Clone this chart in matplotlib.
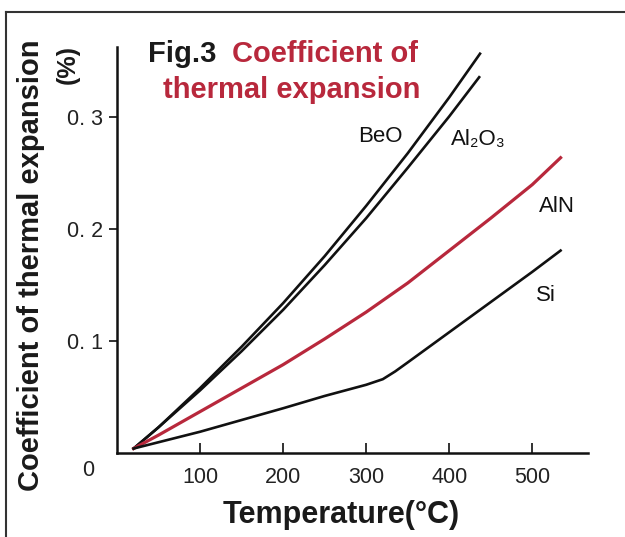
import matplotlib
matplotlib.use("Agg")
import matplotlib.pyplot as plt

# ---- data ----
temp_beo = [20, 50, 100, 150, 200, 250, 300, 350, 400, 437]
val_beo = [0.004, 0.023, 0.058, 0.095, 0.134, 0.176, 0.221, 0.268, 0.318, 0.357]

temp_al2o3 = [20, 50, 100, 150, 200, 250, 300, 350, 400, 436]
val_al2o3 = [0.004, 0.023, 0.056, 0.091, 0.128, 0.168, 0.210, 0.255, 0.301, 0.336]

temp_aln = [20, 50, 100, 150, 200, 250, 300, 350, 400, 450, 500, 534]
val_aln = [0.004, 0.016, 0.037, 0.058, 0.079, 0.102, 0.126, 0.152, 0.181, 0.210, 0.240, 0.264]

temp_si = [20, 100, 200, 250, 300, 320, 335, 350, 400, 450, 500, 534]
val_si = [0.004, 0.019, 0.040, 0.051, 0.061, 0.066, 0.073, 0.081, 0.108, 0.135, 0.162, 0.181]

x_ticks = [100, 200, 300, 400, 500]
x_ticklabels = ["100", "200", "300", "400", "500"]
y_ticks = [0.1, 0.2, 0.3]
y_ticklabels = ["0. 1", "0. 2", "0. 3"]

RED = "#b8283c"
W, H = 625, 537
FONT = ["Liberation Sans", "DejaVu Sans"]
plt.rcParams["font.family"] = FONT

fig = plt.figure(figsize=(W / 100, H / 100), dpi=100)
ax = fig.add_axes([117 / W, 1 - 453 / H, (588 - 117) / W, (453 - 47) / H])

ax.plot(temp_beo, val_beo, color="#111111", lw=1.9, solid_joinstyle="round")
ax.plot(temp_al2o3, val_al2o3, color="#111111", lw=1.9, solid_joinstyle="round")
ax.plot(temp_aln, val_aln, color=RED, lw=2.3, solid_joinstyle="round")
ax.plot(temp_si, val_si, color="#111111", lw=1.9, solid_joinstyle="round")

ax.set_xlim(0, 567)
ax.set_ylim(0, 0.363)
for s in ["top", "right"]:
    ax.spines[s].set_visible(False)
for s in ["left", "bottom"]:
    ax.spines[s].set_linewidth(1.8)
    ax.spines[s].set_color("#111111")

ax.set_xticks(x_ticks)
ax.set_xticklabels(x_ticklabels)
ax.set_yticks(y_ticks)
ax.set_yticklabels(y_ticklabels)
ax.tick_params(axis="x", direction="in", length=7, width=1.3, pad=10,
               labelsize=15.5, colors="#222222")
ax.tick_params(axis="y", direction="out", length=6, width=1.3, pad=4,
               labelsize=15.5, colors="#222222")

# origin label
fig.text(88 / W, 1 - 470 / H, "0", fontsize=15.5, color="#222222",
         ha="center", va="center")

# curve labels
ax.text(317, 0.283, "BeO", fontsize=16, ha="center", va="center", color="#111111")
ax.text(435, 0.280, "Al₂O₃", fontsize=16, ha="center", va="center", color="#111111")
ax.text(530, 0.220, "AlN", fontsize=16, ha="center", va="center", color="#111111")
ax.text(516, 0.141, "Si", fontsize=16, ha="center", va="center", color="#111111")

# title
fig.text(148 / W, 1 - 62 / H, "Fig.3", fontsize=21, fontweight="bold",
         color="#1a1a1a", ha="left", va="baseline")
fig.text(232 / W, 1 - 62 / H, "Coefficient of", fontsize=21, fontweight="bold",
         color=RED, ha="left", va="baseline")
fig.text(163 / W, 1 - 98 / H, "thermal expansion", fontsize=21, fontweight="bold",
         color=RED, ha="left", va="baseline")

# axis labels
fig.text(31 / W, 1 - 265 / H, "Coefficient of thermal expansion", fontsize=21,
         fontweight="bold", rotation=90, ha="center", va="center", color="#1a1a1a")
fig.text(68 / W, 1 - 64 / H, "(%)", fontsize=18, fontweight="bold",
         rotation=90, ha="center", va="center", color="#1a1a1a")
fig.text(341 / W, 1 - 515 / H, "Temperature(°C)", fontsize=22,
         fontweight="bold", ha="center", va="center", color="#1a1a1a")

# scanned frame lines (left and top)
fig.add_artist(plt.Line2D([6 / W, 6 / W], [0, 1 - 12 / H], transform=fig.transFigure,
                          color="#333333", lw=1.5))
fig.add_artist(plt.Line2D([6 / W, 1], [1 - 12 / H, 1 - 12 / H], transform=fig.transFigure,
                          color="#333333", lw=1.5))

fig.savefig("out.png", dpi=100)
